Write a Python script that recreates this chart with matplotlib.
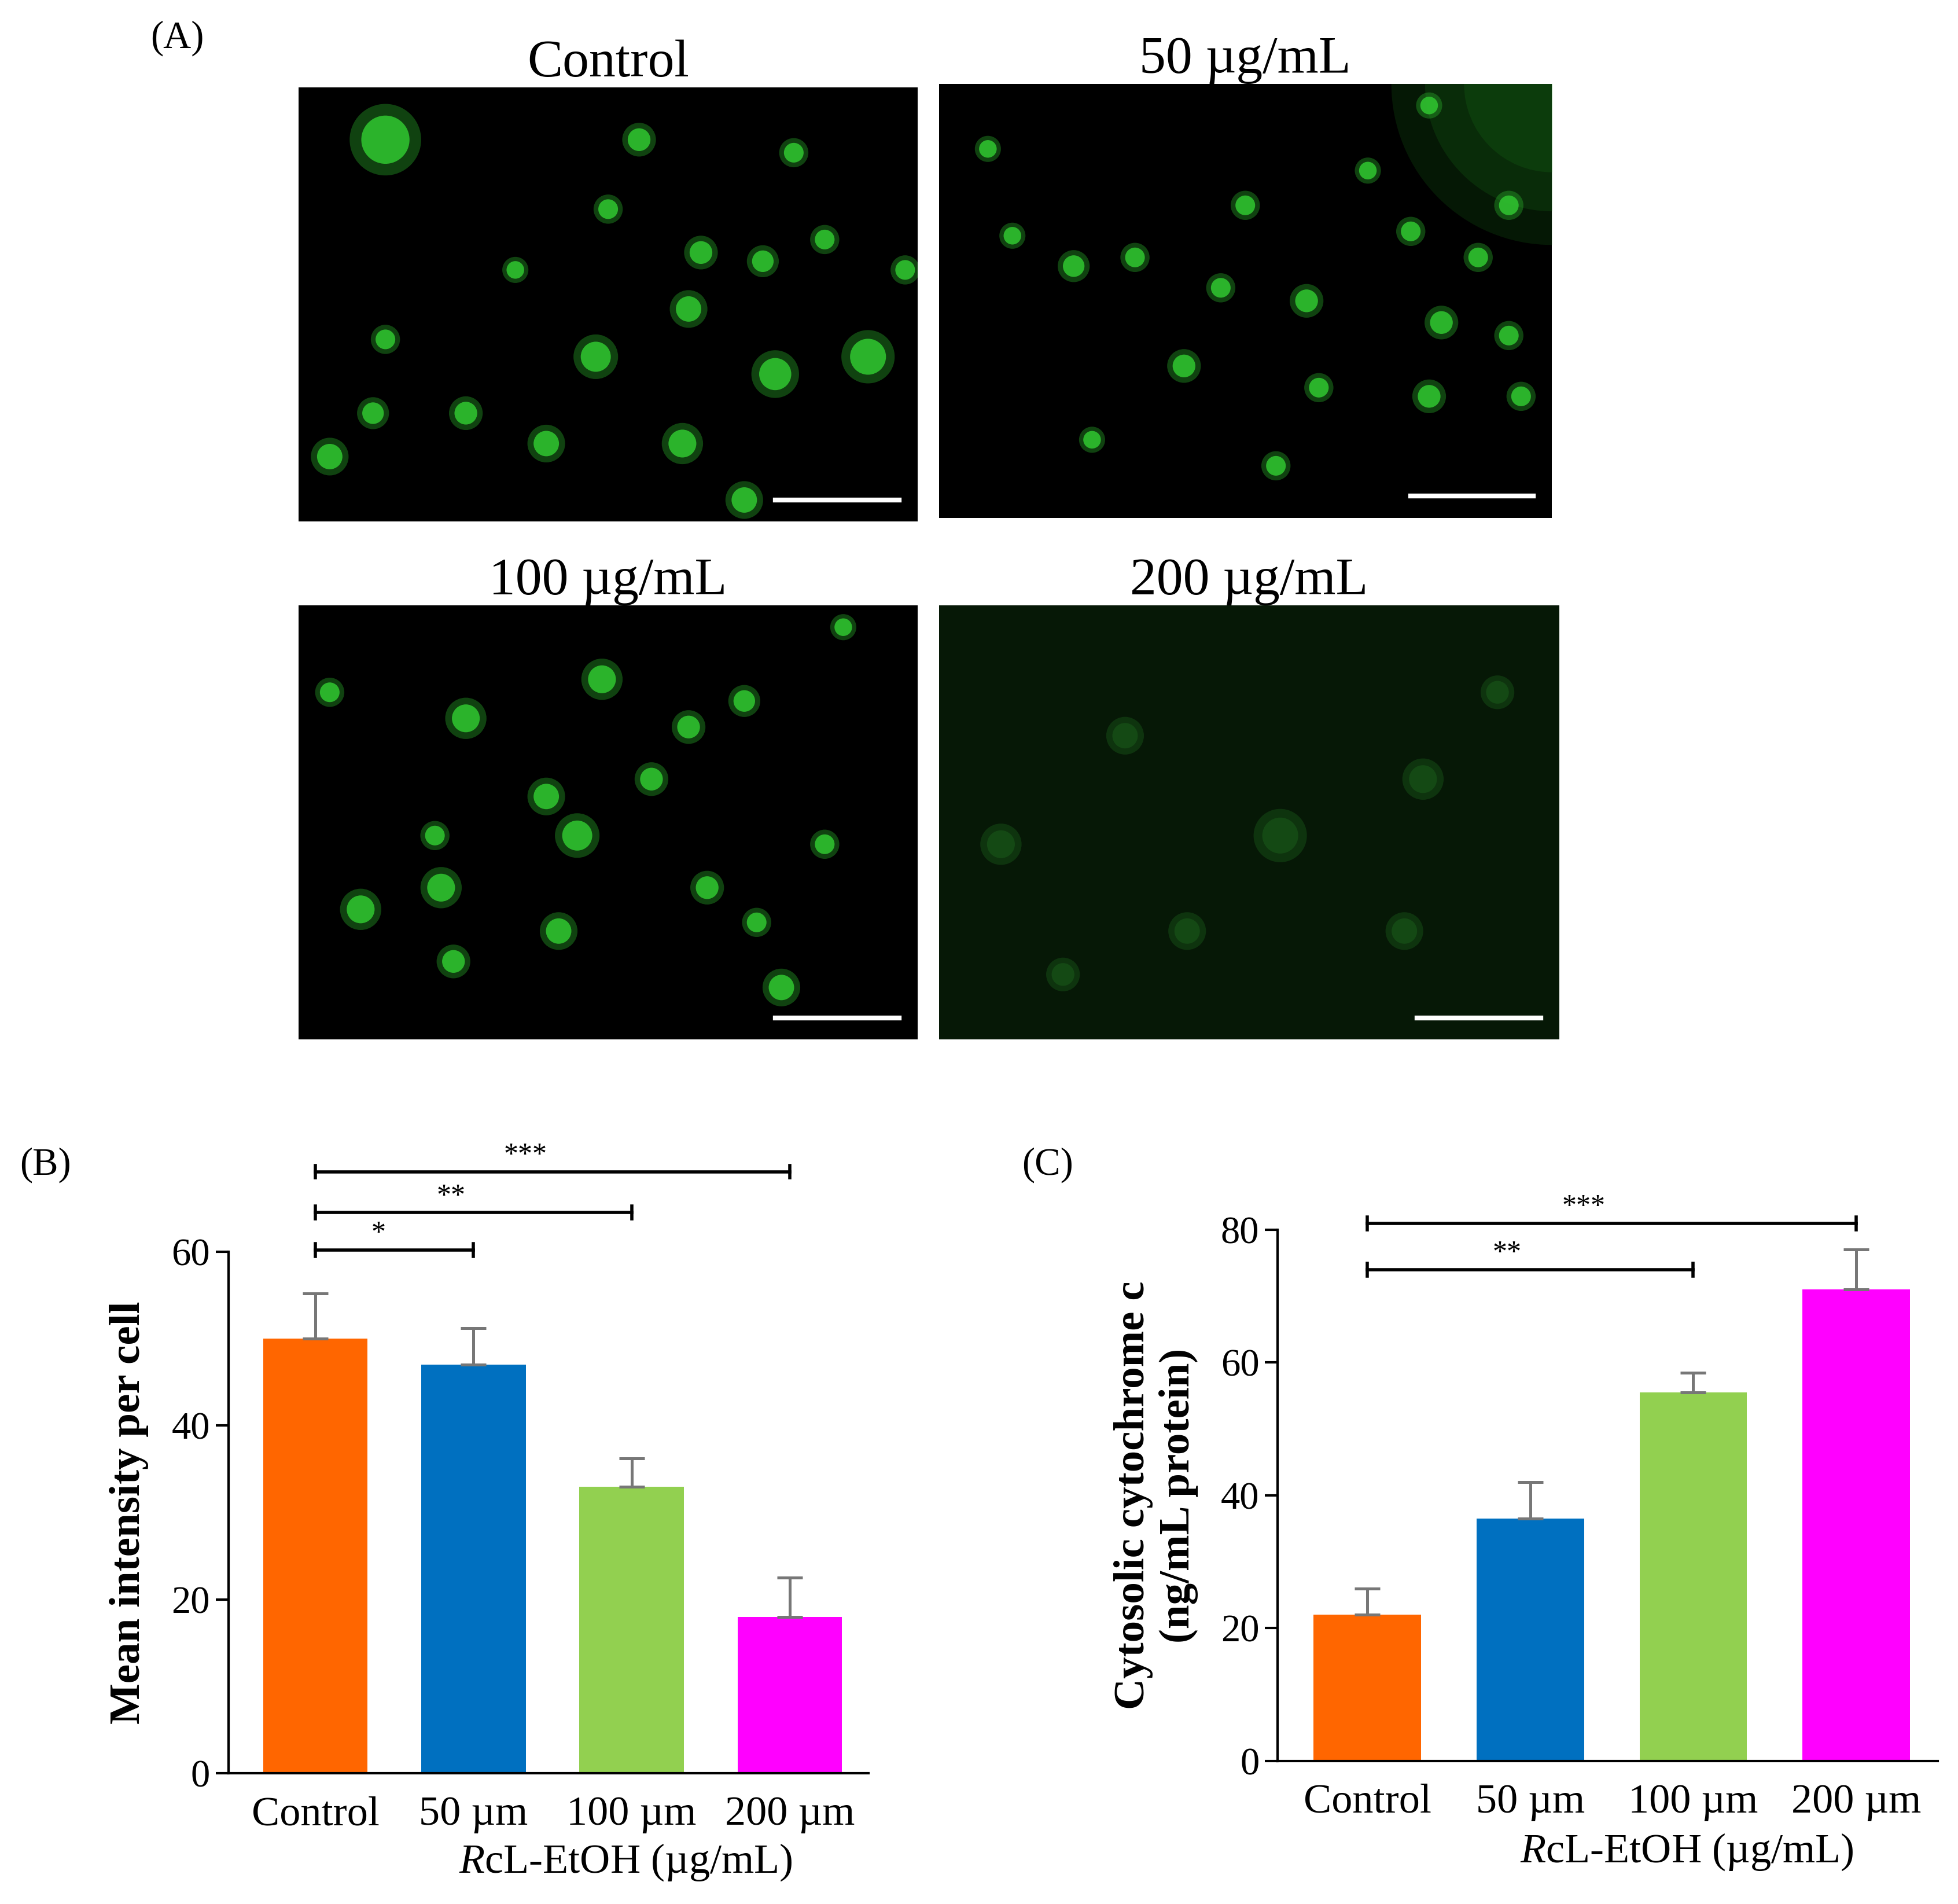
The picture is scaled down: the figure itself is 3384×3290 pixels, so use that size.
import matplotlib.pyplot as plt

plt.rcParams['font.family'] = ['Liberation Serif', 'DejaVu Serif']
plt.rcParams['mathtext.fontset'] = 'custom'
plt.rcParams['mathtext.rm'] = 'Liberation Serif'
plt.rcParams['mathtext.it'] = 'Liberation Serif:italic'

GROUPS = ["Control", "50 µm", "100 µm", "200 µm"]
COLORS = ["#FF6600", "#0070C0", "#92D050", "#FF00FF"]
INTENSITY = [50, 47, 33, 18]
INTENSITY_ERR = [5.2, 4.2, 3.2, 4.5]
CYTC = [22, 36.5, 55.5, 71]
CYTC_ERR = [4, 5.5, 3, 6]

# brackets: (from group, to group, height, label)
B_SIG = [(0, 1, 60.2, "*"), (0, 2, 64.5, "**"), (0, 3, 69.2, "***")]
C_SIG = [(0, 2, 74, "**"), (0, 3, 81, "***")]

# micrograph cell blobs: x, y (fraction of panel), size
CELLS = {
    "Control": [(0.14, 0.88, 900), (0.55, 0.88, 200), (0.8, 0.85, 150), (0.5, 0.72, 150),
                (0.65, 0.62, 200), (0.75, 0.6, 180), (0.63, 0.49, 250), (0.48, 0.38, 350),
                (0.77, 0.34, 400), (0.92, 0.38, 500), (0.4, 0.18, 250), (0.62, 0.18, 300),
                (0.27, 0.25, 200), (0.12, 0.25, 180), (0.05, 0.15, 250), (0.72, 0.05, 250),
                (0.14, 0.42, 150), (0.85, 0.65, 150), (0.98, 0.58, 150), (0.35, 0.58, 120)],
    "50": [(0.5, 0.72, 150), (0.7, 0.8, 120), (0.8, 0.95, 120), (0.77, 0.66, 150),
           (0.93, 0.72, 150), (0.88, 0.6, 150), (0.46, 0.53, 150), (0.6, 0.5, 200),
           (0.32, 0.6, 150), (0.22, 0.58, 180), (0.12, 0.65, 120), (0.82, 0.45, 200),
           (0.93, 0.42, 150), (0.62, 0.3, 150), (0.4, 0.35, 200), (0.8, 0.28, 200),
           (0.95, 0.28, 150), (0.55, 0.12, 150), (0.25, 0.18, 120), (0.08, 0.85, 120)],
    "100": [(0.27, 0.74, 300), (0.49, 0.83, 300), (0.63, 0.72, 200), (0.72, 0.78, 180),
            (0.4, 0.56, 250), (0.45, 0.47, 350), (0.57, 0.6, 200), (0.22, 0.47, 150),
            (0.1, 0.3, 300), (0.23, 0.35, 300), (0.42, 0.25, 250), (0.25, 0.18, 200),
            (0.66, 0.35, 200), (0.74, 0.27, 150), (0.78, 0.12, 250), (0.85, 0.45, 150),
            (0.05, 0.8, 150), (0.88, 0.95, 120)],
    "200": [(0.55, 0.47, 500), (0.1, 0.45, 300), (0.3, 0.7, 250), (0.78, 0.6, 300),
            (0.4, 0.25, 250), (0.75, 0.25, 250), (0.2, 0.15, 200), (0.9, 0.8, 200)],
}
IMG_TITLES = {"Control": "Control", "50": "50 µg/mL", "100": "100 µg/mL", "200": "200 µg/mL"}
IMG_RECTS = {"Control": (0.1526, 0.726, 0.316, 0.228), "50": (0.4795, 0.728, 0.313, 0.228),
             "100": (0.1526, 0.454, 0.316, 0.228), "200": (0.4795, 0.454, 0.317, 0.228)}
GLOW_SIZES = [40000, 25000, 12000]


def micrograph(fig, key):
    ax = fig.add_axes(IMG_RECTS[key])
    dim = key == "200"
    ax.set_facecolor("#061806" if dim else "#000000")
    if key == "50":
        for s in GLOW_SIZES:
            ax.scatter([1.0], [1.0], s=s, color="#1c8a1c", alpha=0.18, lw=0)
    xs, ys, ss = zip(*CELLS[key])
    col = "#1f6a1f" if dim else "#2fc02f"
    ax.scatter(xs, ys, s=[s * 2.2 for s in ss], color=col, alpha=0.35, lw=0)
    ax.scatter(xs, ys, s=ss, color=col, alpha=0.9 if not dim else 0.4, lw=0)
    ax.plot([0.77, 0.97], [0.05, 0.05], color="white", lw=3)
    ax.set_xlim(0, 1)
    ax.set_ylim(0, 1)
    ax.set_xticks([])
    ax.set_yticks([])
    for sp in ax.spines.values():
        sp.set_visible(False)
    ax.set_title(IMG_TITLES[key], fontsize=33, pad=4)


def bars(ax, vals, errs, sigs, ymax, ystep, ylabel):
    x = range(len(vals))
    ax.bar(x, vals, width=0.66, color=COLORS, yerr=[[0] * len(errs), errs],
           error_kw=dict(ecolor="#777777", capsize=8, elinewidth=1.8, capthick=1.8))
    for a, b, h, lab in sigs:
        ax.plot([a, b], [h, h], color="black", lw=2, clip_on=False)
        for xx in (a, b):
            ax.plot([xx, xx], [h - ymax * 0.012, h + ymax * 0.012], color="black", lw=2, clip_on=False)
        ax.text((a + b) / 2 - 0.1 * (b - a) ** 0.5, h + ymax * 0.005, lab, ha="center", va="bottom", fontsize=18)
    ax.set_xlim(-0.55, 3.5)
    ax.set_ylim(0, ymax)
    ax.set_yticks(range(0, ymax + 1, ystep))
    ax.set_xticks(list(x))
    ax.set_xticklabels(GROUPS, fontsize=26)
    ax.tick_params(axis="y", labelsize=24, length=8, width=1.5)
    ax.tick_params(axis="x", length=0, pad=14)
    ax.spines[["top", "right"]].set_visible(False)
    ax.spines[["left", "bottom"]].set_linewidth(1.5)
    ax.set_ylabel(ylabel, fontsize=27, fontweight="bold", labelpad=14)
    ax.text(0.62, -0.19, "$\\it{R}$cL-EtOH (µg/mL)", transform=ax.transAxes, ha="center", fontsize=26)


fig = plt.figure(figsize=(16.92, 16.45), dpi=200)
for key in CELLS:
    micrograph(fig, key)
fig.text(0.077, 0.975, "(A)", fontsize=24)

axb = fig.add_axes([0.1167, 0.0686, 0.327, 0.274])
bars(axb, INTENSITY, INTENSITY_ERR, B_SIG, 60, 20, "Mean intensity per cell")
fig.text(0.01, 0.383, "(B)", fontsize=24)

axc = fig.add_axes([0.6526, 0.0751, 0.337, 0.279])
bars(axc, CYTC, CYTC_ERR, C_SIG, 80, 20, "Cytosolic cytochrome c\n(ng/mL protein)")
fig.text(0.522, 0.383, "(C)", fontsize=24)

fig.savefig("out.png", dpi=200)
